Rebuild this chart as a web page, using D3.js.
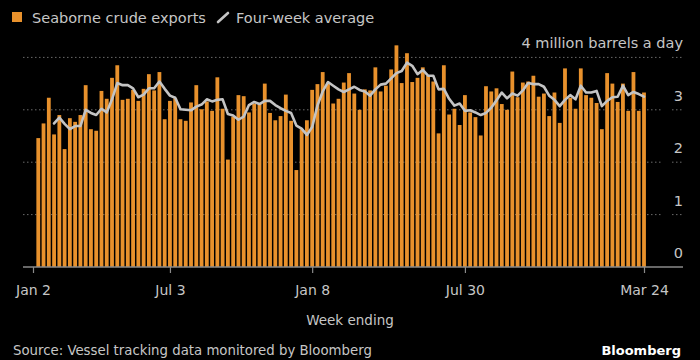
<!DOCTYPE html>
<html>
<head>
<meta charset="utf-8">
<script src="https://cdn.jsdelivr.net/npm/d3@7"></script>
<style>
  html, body { margin: 0; padding: 0; background: #000; }
  svg { display: block; }
  text { font-family: "DejaVu Sans", sans-serif; }
</style>
</head>
<body>
<svg id="chart" width="700" height="360"></svg>
<script>
// ---- data ----
const firstWeek = new Date(2022, 0, 9);   // first week ending (Sunday)
const weekCount = 116;
const exports = [
  2.46, 2.74, 3.23, 2.53, 2.90, 2.25, 2.84, 2.77, 2.90, 3.47,
  2.63, 2.60, 3.36, 3.21, 3.61, 3.85, 3.19, 3.21, 3.38, 3.17,
  3.40, 3.68, 3.37, 3.72, 2.82, 3.17, 3.22, 2.82, 2.79, 3.14,
  3.47, 3.01, 3.16, 2.98, 3.62, 3.02, 2.05, 2.87, 3.28, 3.26,
  2.95, 3.12, 3.11, 3.50, 2.94, 2.80, 2.88, 3.29, 2.79, 1.85,
  2.63, 2.80, 3.38, 3.49, 3.72, 3.52, 3.12, 3.21, 3.52, 3.70,
  3.31, 3.00, 3.39, 3.37, 3.81, 3.35, 3.46, 3.77, 4.23, 3.51,
  4.08, 3.53, 3.61, 3.81, 3.65, 3.54, 2.55, 3.85, 2.91, 3.02,
  2.71, 3.28, 2.95, 2.86, 2.51, 3.45, 3.35, 3.41, 3.11, 3.00,
  3.73, 3.24, 3.52, 3.54, 3.65, 3.25, 3.31, 2.88, 3.33, 2.75,
  3.79, 3.23, 3.02, 3.79, 3.28, 3.23, 3.13, 2.63, 3.70, 3.50,
  3.15, 3.50, 2.98, 3.72, 2.98, 3.33
];
// four-week average, starting at the 4th week
const fourWeekAvg = [
  2.74, 2.85, 2.73, 2.63, 2.69, 2.69, 3.00, 2.94, 2.90, 3.02,
  2.95, 3.20, 3.51, 3.47, 3.47, 3.41, 3.24, 3.29, 3.41, 3.41,
  3.54, 3.40, 3.27, 3.23, 3.01, 3.00, 2.99, 3.06, 3.10, 3.20,
  3.16, 3.19, 3.20, 2.92, 2.89, 2.81, 2.87, 3.09, 3.15, 3.11,
  3.17, 3.17, 3.09, 3.03, 2.98, 2.94, 2.70, 2.64, 2.52, 2.67,
  3.08, 3.35, 3.53, 3.46, 3.39, 3.34, 3.39, 3.44, 3.38, 3.35,
  3.27, 3.39, 3.48, 3.50, 3.60, 3.70, 3.74, 3.90, 3.84, 3.68,
  3.76, 3.65, 3.65, 3.39, 3.40, 3.21, 3.08, 3.12, 2.98, 2.99,
  2.95, 2.90, 2.94, 3.04, 3.18, 3.33, 3.22, 3.31, 3.27, 3.37,
  3.51, 3.49, 3.49, 3.44, 3.27, 3.19, 3.07, 3.19, 3.28, 3.20,
  3.46, 3.33, 3.33, 3.36, 3.07, 3.17, 3.24, 3.25, 3.46, 3.28,
  3.34, 3.30, 3.25
];
const avgOffset = 3;
const tickDates = [new Date(2022,0,2), new Date(2022,6,3), new Date(2023,0,8), new Date(2023,6,30), new Date(2024,2,24)];
const tickLabels = ["Jan 2", "Jul 3", "Jan 8", "Jul 30", "Mar 24"];
const yTicks = [0, 1, 2, 3, 4];
const yTickLabels = ["0", "1", "2", "3", "4 million barrels a day"];
const seriesNames = ["Seaborne crude exports", "Four-week average"];
const titleText = "Week ending";
const sourceText = "Source: Vessel tracking data monitored by Bloomberg";
const brandText = "Bloomberg";

// ---- layout ----
const weeks = d3.range(weekCount).map(i => d3.timeDay.offset(firstWeek, 7 * i));
const svg = d3.select("#chart");
const x = d3.scaleTime().domain([tickDates[0], tickDates[tickDates.length - 1]]).range([33, 644]);
const y = d3.scaleLinear().domain([0, 4]).range([267, 57.4]);
const textCol = "#c6c6c6";
const gridCol = "#6a6a6a";
const barCol = "#e8912c";

// gridlines
const grid = svg.append("g");
yTicks.filter(d => d > 0).forEach(d => {
  grid.append("line").attr("x1", 23).attr("x2", 661).attr("y1", y(d)).attr("y2", y(d))
    .attr("stroke", gridCol).attr("stroke-width", 1).attr("stroke-dasharray", "1.5,2.5");
  grid.append("line").attr("x1", 672).attr("x2", 683).attr("y1", y(d)).attr("y2", y(d))
    .attr("stroke", gridCol).attr("stroke-width", 1).attr("stroke-dasharray", "1.5,2.5");
});

// y labels
svg.append("g").selectAll("text").data(yTicks).join("text")
  .attr("x", 683).attr("y", d => y(d) - 9)
  .attr("text-anchor", "end").attr("fill", textCol).attr("font-size", 14.5)
  .text((d, i) => yTickLabels[i]);

// bars
const bw = 3.8;
svg.append("g").selectAll("rect").data(exports).join("rect")
  .attr("x", (d, i) => x(weeks[i]) - bw / 2)
  .attr("width", bw)
  .attr("y", d => y(d))
  .attr("height", d => y(0) - y(d))
  .attr("fill", barCol);

// four-week average line
const line = d3.line()
  .x((d, i) => x(weeks[i + avgOffset]))
  .y(d => y(d));
svg.append("path").datum(fourWeekAvg)
  .attr("d", line)
  .attr("fill", "none").attr("stroke", "#c4c4c4").attr("stroke-width", 2.6)
  .attr("stroke-linejoin", "round").attr("stroke-linecap", "round");

// x axis
const xAxis = d3.axisBottom(x).tickValues(tickDates).tickFormat((d, i) => tickLabels[i]).tickSize(6).tickSizeOuter(0);
const gx = svg.append("g").attr("transform", `translate(0,${y(0)})`).call(xAxis);
gx.select(".domain").remove();
gx.selectAll(".tick line").attr("stroke", "#8a8a8a").attr("stroke-width", 1.2);
gx.selectAll(".tick text").attr("fill", textCol).attr("font-size", 14)
  .attr("font-family", "DejaVu Sans, sans-serif").attr("dy", 0).attr("y", 28);
svg.append("line").attr("x1", 23).attr("x2", 683).attr("y1", y(0)).attr("y2", y(0))
  .attr("stroke", "#8a8a8a").attr("stroke-width", 1.5);

// axis title
svg.append("text").attr("x", 350).attr("y", 325).attr("text-anchor", "middle")
  .attr("fill", textCol).attr("font-size", 13.5).text(titleText);

// legend
const lg = svg.append("g");
lg.append("rect").attr("x", 12).attr("y", 12).attr("width", 10).attr("height", 10).attr("fill", barCol);
lg.append("text").attr("x", 32).attr("y", 22.5).attr("fill", textCol).attr("font-size", 14.5).text(seriesNames[0]);
lg.append("line").attr("x1", 218).attr("y1", 22).attr("x2", 228).attr("y2", 13)
  .attr("stroke", "#c4c4c4").attr("stroke-width", 2.6).attr("stroke-linecap", "round");
lg.append("text").attr("x", 236).attr("y", 22.5).attr("fill", textCol).attr("font-size", 14.5).text(seriesNames[1]);

// source and brand
svg.append("text").attr("x", 13).attr("y", 355).attr("fill", textCol).attr("font-size", 13.3).text(sourceText);
svg.append("text").attr("x", 681).attr("y", 355).attr("text-anchor", "end").attr("fill", "#ffffff")
  .attr("font-size", 13).attr("font-weight", "bold").attr("font-family", "Liberation Sans, Arial, sans-serif").text(brandText);
</script>
</body>
</html>
